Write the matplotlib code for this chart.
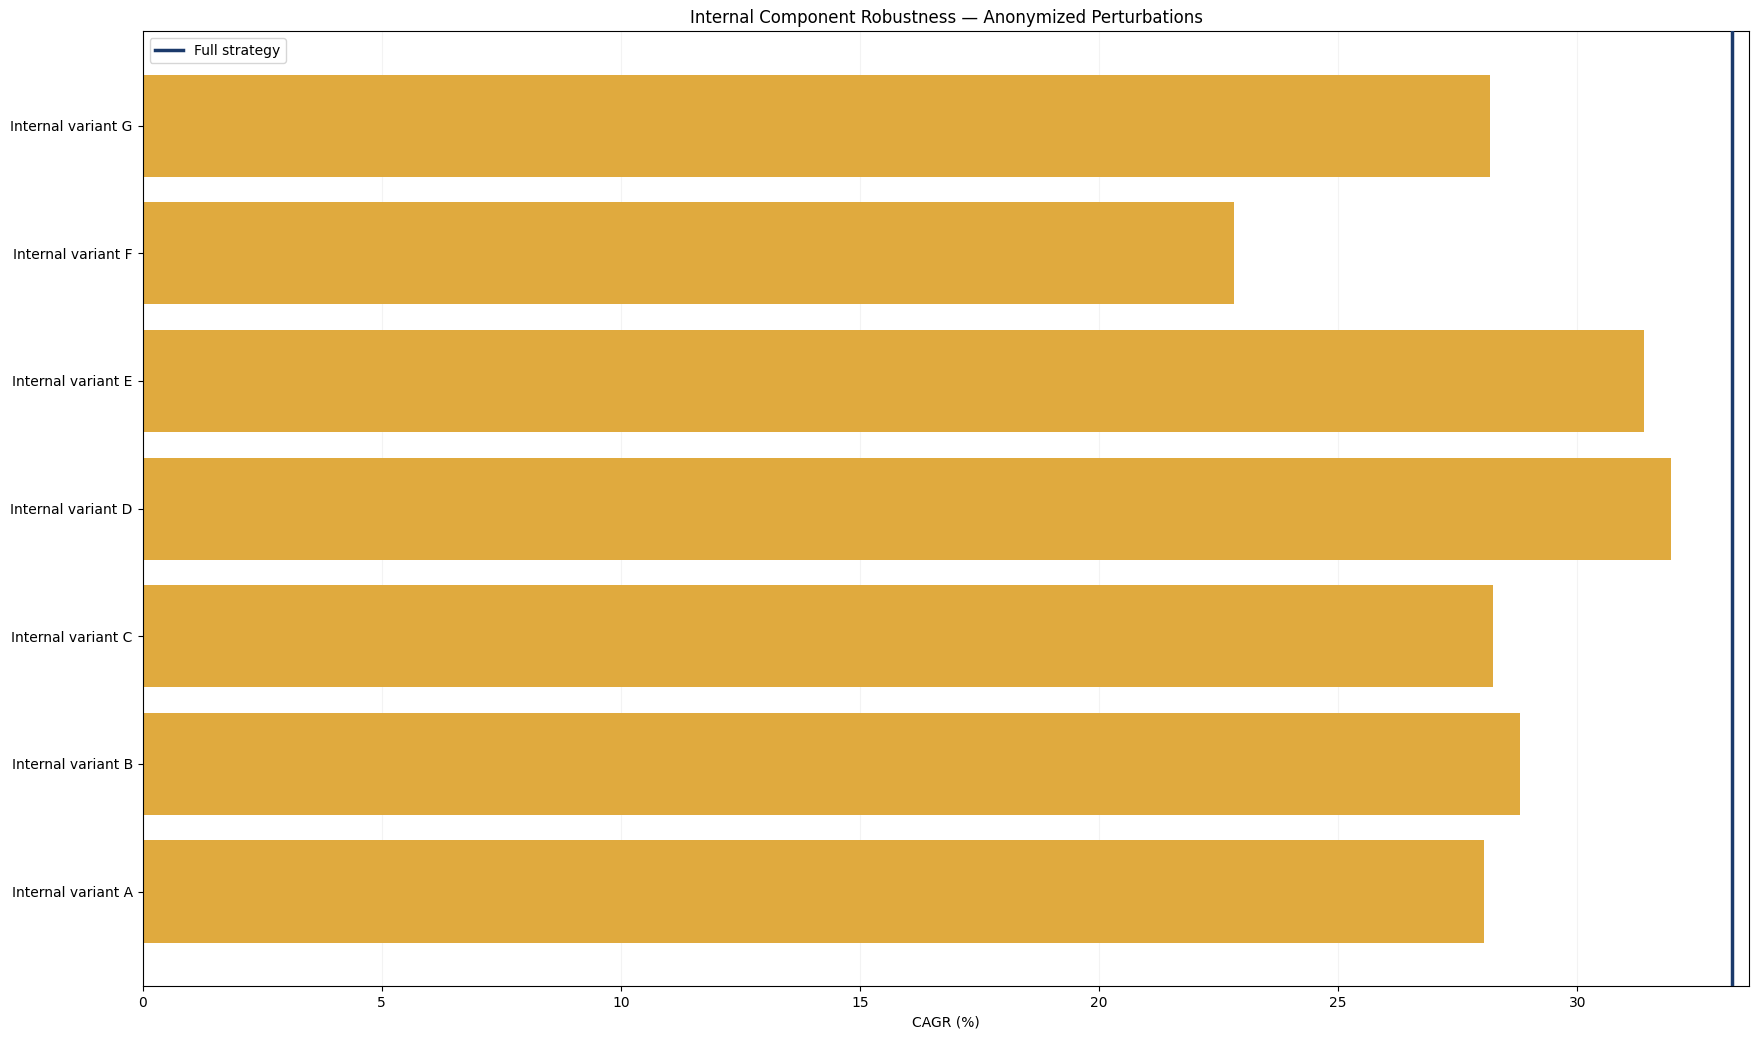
import matplotlib
matplotlib.use('Agg')
import matplotlib.pyplot as plt

labels = ['Internal variant A', 'Internal variant B', 'Internal variant C', 'Internal variant D',
          'Internal variant E', 'Internal variant F', 'Internal variant G']
cagr = [28.06, 28.81, 28.24, 31.97, 31.39, 22.82, 28.17]
full_strategy = 33.24

fig = plt.figure(figsize=(17.6, 10.39), dpi=100)
ax = fig.add_axes([0.081, 0.051, 0.913, 0.919])
ax.barh(labels, cagr, color='#E0AA3E', zorder=2)
ax.axvline(full_strategy, color='#1B3A6B', lw=2.5, label='Full strategy', zorder=3)
ax.set_xlim(0, 33.6)
ax.grid(axis='x', alpha=0.15, zorder=0)
ax.set_xlabel('CAGR (%)')
ax.set_title('Internal Component Robustness — Anonymized Perturbations')
ax.legend(loc='upper left')
plt.savefig('out.png', dpi=100)
